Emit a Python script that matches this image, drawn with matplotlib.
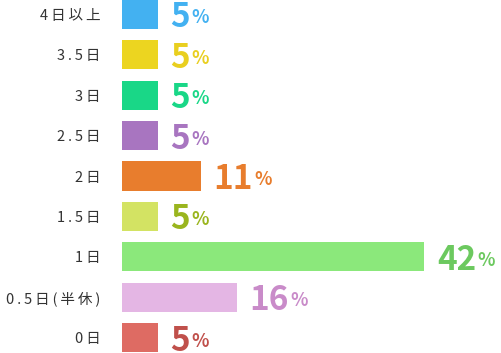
import matplotlib.pyplot as plt
from matplotlib.transforms import offset_copy

plt.rcParams['font.family'] = ['Noto Sans CJK JP', 'DejaVu Sans']

# data, top to bottom
categories = ['4日以上', '3.5日', '3日', '2.5日', '2日', '1.5日', '1日', '0.5日(半休)', '0日']
values = [5, 5, 5, 5, 11, 5, 42, 16, 5]
bar_colors = ['#43b1f1', '#ecd520', '#19d787', '#a875c0', '#e87d2d',
              '#d3e363', '#8be87b', '#e4b6e4', '#de6b63']
text_colors = ['#43b1f1', '#e9cf1f', '#19d787', '#a875c0', '#e87d2d',
               '#9ab51e', '#6cc95f', '#c98bc9', '#c0504b']

# wide letter spacing like the original labels
spaced = ['\u2009'.join(c) for c in categories]

fig = plt.figure(figsize=(5.02, 3.53), dpi=100)
ax = fig.add_axes([122 / 502, 0, 380 / 502, 1])

ypos = list(range(len(categories)))
ax.barh(ypos, values, height=0.72, color=bar_colors)

ax.set_xlim(0, 380 / 7.2)
ax.set_ylim(8 + 15.5 / 40.4, -14.5 / 40.4)
ax.set_yticks(ypos)
ax.set_yticklabels(spaced, fontsize=10.5, color='#333333')
ax.tick_params(axis='y', length=0, pad=15.5)
ax.set_xticks([])
for s in ax.spines.values():
    s.set_visible(False)

fig.canvas.draw()
renderer = fig.canvas.get_renderer()
for y, v, c in zip(ypos, values, text_colors):
    num = ax.annotate(str(v), (v, y), xytext=(9, 0), textcoords='offset points',
                      ha='left', va='center_baseline', fontsize=24,
                      fontweight='bold', color=c, annotation_clip=False)
    bb = num.get_window_extent(renderer)
    # put the small percent sign right after the number, same baseline
    px, py = ax.transData.inverted().transform((bb.x1 + 1, bb.y0))
    ax.text(px, py, '%', fontsize=13, fontweight='bold', color=c,
            ha='left', va='bottom',
            transform=offset_copy(ax.transData, fig=fig, x=0, y=7, units='dots'))

fig.savefig('out.png', dpi=100)
